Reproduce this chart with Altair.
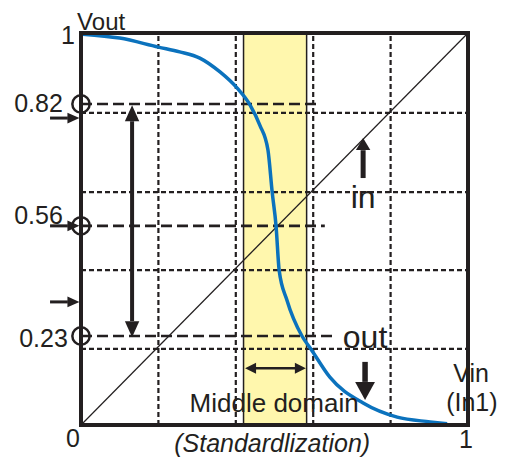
import altair as alt
import pandas as pd

# ---- data ----
curve_x = [0.005, 0.10, 0.20, 0.255, 0.307, 0.36, 0.403, 0.437, 0.462, 0.483, 0.494,
           0.504, 0.512, 0.532, 0.571, 0.594, 0.643, 0.729, 0.817, 0.902, 0.946]
curve_y = [0.997, 0.987, 0.964, 0.952, 0.936, 0.90, 0.860, 0.816, 0.765, 0.702, 0.594,
           0.508, 0.395, 0.319, 0.227, 0.194, 0.122, 0.056, 0.020, 0.008, 0.003]

grid_x = [0.2, 0.4, 0.6, 0.8]
grid_y = [0.796, 0.594, 0.395, 0.194]

band_x = [0.42, 0.583]

level_y = [0.819, 0.508, 0.227]
level_end = [0.61, 0.63, 0.66]
level_labels = ["0.82", "0.56", "0.23"]
level_label_x = [-0.047, -0.047, -0.034]
level_label_y = [0.798, 0.513, 0.199]

left_arrow_y = [0.783, 0.508, 0.314]

# arrow shafts: x, y, x2, y2, width
shaft_x = [-0.080, -0.080, -0.080, 0.132, 0.729, 0.734, 0.450]
shaft_y = [0.783, 0.508, 0.314, 0.775, 0.630, 0.161, 0.145]
shaft_x2 = [-0.034, -0.034, -0.034, 0.132, 0.729, 0.734, 0.555]
shaft_y2 = [0.783, 0.508, 0.314, 0.265, 0.701, 0.110, 0.145]
shaft_w = [3, 3, 3, 4, 5, 5.5, 2.5]

RIGHT = "M0,0L-1,-0.45L-1,0.45Z"
LEFT = "M0,0L1,-0.45L1,0.45Z"
RIGHT_M = "M0,0L-1,-0.5L-1,0.5Z"
LEFT_M = "M0,0L1,-0.5L1,0.5Z"
UP = "M0,0L-0.45,1L0.45,1Z"
DOWN = "M0,0L-0.45,-1L0.45,-1Z"
UP_W = "M0,0L-0.6,1L0.6,1Z"
DOWN_W = "M0,0L-0.55,-1L0.55,-1Z"

head_x = [-0.004, -0.004, -0.004, 0.132, 0.132, 0.729, 0.734, 0.424, 0.581]
head_y = [0.783, 0.508, 0.314, 0.816, 0.224, 0.732, 0.064, 0.145, 0.145]
head_shape = [RIGHT, RIGHT, RIGHT, UP, DOWN, UP_W, DOWN_W, LEFT_M, RIGHT_M]
head_size = [576, 576, 576, 1024, 1024, 576, 1296, 484, 484]

center_text = ["Vout", "1", "0", "1", "Vin", "(In1)", "Middle domain"]
center_text_x = [0.052, -0.034, -0.021, 0.995, 1.008, 1.010, 0.499]
center_text_y = [1.008, 0.972, -0.056, -0.059, 0.110, 0.036, 0.033]
center_text_size = [24, 25, 25, 25, 25, 25, 26]

big_text = ["in", "out"]
big_text_x = [0.729, 0.734]
big_text_y = [0.554, 0.196]

italic_text = ["(Standardlization)"]
italic_text_x = [0.494]
italic_text_y = [-0.069]

BLACK = "#231F20"
BLUE = "#0B72BD"
YELLOW = "#FFF7AD"
FONT = "Liberation Sans"

XS = alt.Scale(domain=[0, 1], nice=False, zero=False)
YS = alt.Scale(domain=[0, 1], nice=False, zero=False)


def X(f):
    return alt.X(f, type="quantitative", scale=XS, axis=None)


def Y(f):
    return alt.Y(f, type="quantitative", scale=YS, axis=None)


band = alt.Chart(pd.DataFrame({"x": [band_x[0]], "x2": [band_x[1]], "y": [0.0], "y2": [1.0]})).mark_rect(
    fill=YELLOW, stroke=BLACK, strokeWidth=1.5
).encode(x=X("x"), x2="x2", y=Y("y"), y2="y2")

vgrid = alt.Chart(pd.DataFrame({"x": grid_x, "y": [0.0] * 4, "y2": [1.0] * 4})).mark_rule(
    color=BLACK, strokeWidth=2.2, strokeDash=[5, 3]
).encode(x=X("x"), y=Y("y"), y2="y2")

hgrid = alt.Chart(pd.DataFrame({"y": grid_y, "x": [0.0] * 4, "x2": [1.0] * 4})).mark_rule(
    color=BLACK, strokeWidth=2.2, strokeDash=[5, 3]
).encode(x=X("x"), x2="x2", y=Y("y"))

levels = alt.Chart(pd.DataFrame({"y": level_y, "x": [0.0] * 3, "x2": level_end})).mark_rule(
    color=BLACK, strokeWidth=2.6, strokeDash=[11, 5]
).encode(x=X("x"), x2="x2", y=Y("y"))

diag = alt.Chart(pd.DataFrame({"x": [0.0], "y": [0.0], "x2": [1.0], "y2": [1.0]})).mark_rule(
    color=BLACK, strokeWidth=1.2
).encode(x=X("x"), y=Y("y"), x2="x2", y2="y2")

curve = alt.Chart(pd.DataFrame({"x": curve_x, "y": curve_y})).mark_line(
    color=BLUE, strokeWidth=3.5, interpolate="monotone"
).encode(x=X("x"), y=Y("y"))

frame = alt.Chart(pd.DataFrame({"x": [0.0], "x2": [1.0], "y": [0.0], "y2": [1.0]})).mark_rect(
    fillOpacity=0, stroke=BLACK, strokeWidth=4
).encode(x=X("x"), x2="x2", y=Y("y"), y2="y2")

circles = alt.Chart(pd.DataFrame({"x": [0.0] * 3, "y": level_y})).mark_point(
    shape="circle", size=300, filled=False, strokeWidth=2.5, color=BLACK, opacity=1
).encode(x=X("x"), y=Y("y"))

shafts = alt.Chart(pd.DataFrame({"x": shaft_x, "y": shaft_y, "x2": shaft_x2, "y2": shaft_y2, "w": shaft_w})).mark_rule(
    color=BLACK
).encode(x=X("x"), y=Y("y"), x2="x2", y2="y2", strokeWidth=alt.StrokeWidth("w:Q", scale=None))

heads = alt.Chart(pd.DataFrame({"x": head_x, "y": head_y, "shape": head_shape, "s": head_size})).mark_point(
    filled=True, color=BLACK, opacity=1, strokeWidth=0
).encode(
    x=X("x"), y=Y("y"),
    shape=alt.Shape("shape:N", scale=None),
    size=alt.Size("s:Q", scale=None),
)

level_text = alt.Chart(pd.DataFrame({"x": level_label_x, "y": level_label_y, "t": level_labels})).mark_text(
    align="right", baseline="alphabetic", font=FONT, fontSize=25, color=BLACK
).encode(x=X("x"), y=Y("y"), text="t:N")

ctext = alt.Chart(pd.DataFrame({"x": center_text_x, "y": center_text_y, "t": center_text, "s": center_text_size})).mark_text(
    align="center", baseline="alphabetic", font=FONT, color=BLACK
).encode(x=X("x"), y=Y("y"), text="t:N", size=alt.Size("s:Q", scale=None))

btext = alt.Chart(pd.DataFrame({"x": big_text_x, "y": big_text_y, "t": big_text})).mark_text(
    align="center", baseline="alphabetic", font=FONT, fontSize=32, color=BLACK
).encode(x=X("x"), y=Y("y"), text="t:N")

itext = alt.Chart(pd.DataFrame({"x": italic_text_x, "y": italic_text_y, "t": italic_text})).mark_text(
    align="center", baseline="alphabetic", font=FONT, fontSize=25, fontStyle="italic", color=BLACK
).encode(x=X("x"), y=Y("y"), text="t:N")

chart = alt.layer(
    band, vgrid, hgrid, levels, diag, curve, frame, circles, shafts, heads,
    level_text, ctext, btext, itext
).properties(
    width=387, height=392,
    autosize=alt.AutoSizeParams(type="none"),
    padding={"left": 73, "top": 25, "right": 29, "bottom": 34},
).configure_view(strokeWidth=0).configure(background="white")

chart.save("out.html", embed_options={"renderer": "svg", "actions": False})
